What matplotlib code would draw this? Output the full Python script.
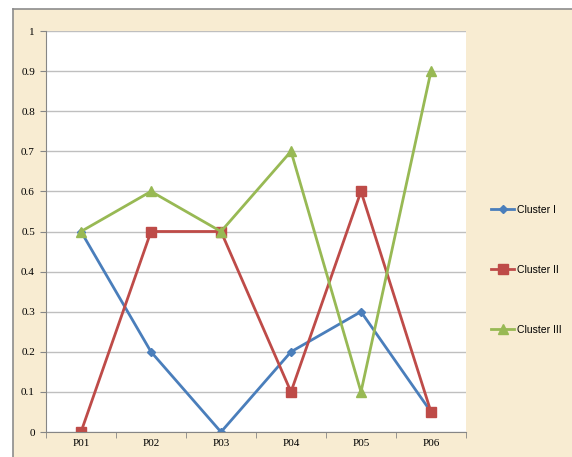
import numpy as np
import matplotlib
matplotlib.use("Agg")
import matplotlib.pyplot as plt
from matplotlib.patches import Rectangle

# data
categories = ['P01', 'P02', 'P03', 'P04', 'P05', 'P06']
cluster1 = [0.5, 0.2, 0.0, 0.2, 0.3, 0.05]
cluster2 = [0.0, 0.5, 0.5, 0.1, 0.6, 0.05]
cluster3 = [0.5, 0.6, 0.5, 0.7, 0.1, 0.9]

W, H = 572, 457
fig = plt.figure(figsize=(W / 100, H / 100), dpi=100)
fig.patch.set_facecolor('white')

# parchment background on its own axes behind everything
bgax = fig.add_axes([0, 0, 1, 1], zorder=-10)
bgax.set_xlim(0, W)
bgax.set_ylim(0, H)
bgax.axis('off')
bgax.add_patch(Rectangle((13, 0), W - 13, H - 9, facecolor='#f8ecd2', edgecolor='none'))
bgax.plot([13, 13], [0, H - 9], color='#8c8c8c', lw=1.2)
bgax.plot([13, W], [H - 9, H - 9], color='#8c8c8c', lw=1.2)

ax = fig.add_axes([46 / W, (H - 432) / H, 420 / W, 401 / H])
ax.set_facecolor('white')

x = np.arange(len(categories))
ax.plot(x, cluster1, color='#4a7ebb', lw=2, marker='D', ms=4.5, label='Cluster I')
ax.plot(x, cluster2, color='#be4b48', lw=2, marker='s', ms=6.5, label='Cluster II')
ax.plot(x, cluster3, color='#98b954', lw=2, marker='^', ms=7, label='Cluster III')

ax.set_xlim(-0.5, len(categories) - 0.5)
ax.set_ylim(0, 1)
ax.set_yticks(np.arange(0, 1.01, 0.1))
ax.set_yticklabels(['0', '0.1', '0.2', '0.3', '0.4', '0.5', '0.6', '0.7', '0.8', '0.9', '1'])
ax.set_xticks(x)
ax.set_xticklabels(categories)
ax.set_xticks(np.arange(-0.5, len(categories), 1), minor=True)
ax.tick_params(axis='x', which='major', length=0, pad=5)
ax.tick_params(axis='x', which='minor', length=4, color='#868686', direction='out')
ax.tick_params(axis='y', length=4, color='#868686', direction='out', pad=4)
for lab in ax.get_xticklabels() + ax.get_yticklabels():
    lab.set_fontfamily('Liberation Serif')
    lab.set_fontsize(8)

ax.grid(axis='y', color='#bfbfbf', lw=1)
ax.set_axisbelow(True)
for s in ['top', 'right']:
    ax.spines[s].set_visible(False)
ax.spines['left'].set_color('#868686')
ax.spines['bottom'].set_color('#868686')

leg = fig.legend(loc='center left', bbox_to_anchor=(482 / W, (H - 270) / H),
                 frameon=False, labelspacing=4.8, handlelength=2.2,
                 handletextpad=0.3, prop={'family': 'Liberation Sans', 'size': 7.5})

fig.savefig('out.png', dpi=100)
